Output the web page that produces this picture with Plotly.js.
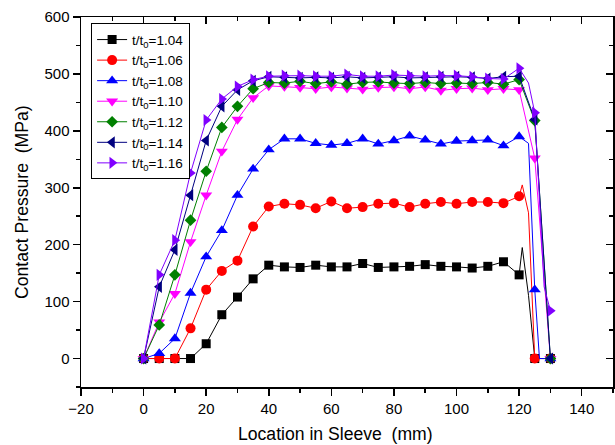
<!DOCTYPE html>
<html>
<head>
<meta charset="utf-8">
<script src="https://cdn.plot.ly/plotly-3.0.1.min.js"></script>
<style>html,body{margin:0;padding:0;background:#fff;}#chart{width:615px;height:445px;}</style>
</head>
<body>
<div id="chart"></div>
<script>
// Location in sleeve (mm) and contact pressure (MPa) for each thickness ratio
const labels = ["1.04", "1.06", "1.08", "1.10", "1.12", "1.14", "1.16"];

const x104 = [0,5,10,15,20,25,30,35,40,45,50,55,60,65,70,75,80,85,90,95,100,105,110,115,120,121,123,125,130];
const y104 = [0,0,0,0,26,77,108,140,164,161,160,164,161,161,167,160,161,162,165,162,161,159,162,170,147,195,111,0,0];

const x106 = [0,5,10,15,20,25,30,35,40,45,50,55,60,65,70,75,80,85,90,95,100,105,110,115,120,121,123,125,130];
const y106 = [0,0,0,53,121,154,172,232,267,272,270,264,276,264,266,272,273,266,272,275,272,275,275,273,285,305,256,0,0];

const x108 = [0,5,10,15,20,25,30,35,40,45,50,55,60,65,70,75,80,85,90,95,100,105,110,115,120,123,125,126.5,130];
const y108 = [0,9,35,115,179,225,287,333,367,386,386,378,375,378,386,377,383,391,384,377,382,383,384,374,390,378,121,0,0];

const x110 = [0,5,10,15,20,25,30,35,40,45,50,55,60,65,70,75,80,85,90,95,100,105,110,115,120,125,130];
const y110 = [0,64,114,205,287,364,420,458,479,478,476,474,477,475,473,476,477,474,477,471,474,475,472,474,472,352,0];

const x112 = [0,5,10,15,20,25,30,35,40,45,50,55,60,65,70,75,80,85,90,95,100,105,110,115,120,125,130];
const y112 = [0,59,147,243,329,406,443,474,485,484,487,483,486,482,485,486,484,483,485,483,484,483,485,482,490,418,0];

const x114 = [0,5,10,15,20,25,30,35,40,45,50,55,60,65,70,75,80,85,90,95,100,105,110,115,120,125,130];
const y114 = [0,126,191,287,383,443,472,488,495,494,493,494,493,495,493,494,495,493,494,495,495,494,492,495,496,420,0];

const x116 = [0,5,10,15,20,25,30,35,40,45,50,55,60,65,70,75,80,85,90,95,100,105,110,115,120,123,125,128,130];
const y116 = [0,147,208,326,419,456,478,490,496,497,497,496,496,499,496,496,498,497,496,497,497,495,492,491,510,484,432,126,84];

const xs = [x104, x106, x108, x110, x112, x114, x116];
const ys = [y104, y106, y108, y110, y112, y114, y116];
const colors = ["#000000", "#FF0000", "#0000FF", "#FF00FF", "#008000", "#000080", "#8000FF"];
const symbols = ["square", "circle", "triangle-up", "triangle-down", "diamond", "triangle-left", "triangle-right"];
const msizes = [9, 10, 10.5, 10.5, 9, 10.5, 10.5];

const traces = xs.map((xv, i) => ({
  type: "scatter",
  mode: "lines+markers",
  x: xv,
  y: ys[i],
  name: "t/t<sub>0</sub>=" + labels[i],
  line: {color: colors[i], width: 1},
  marker: {
    // markers only on the 5 mm stations; intermediate line points stay unmarked
    color: xv.map(v => (v % 5 === 0 ? colors[i] : "rgba(0,0,0,0)")),
    symbol: symbols[i],
    size: msizes[i],
    line: {width: 0}
  },
  cliponaxis: false
}));

// dummy trace to create mirrored top/right axes
traces.push({x: [null], y: [null], xaxis: "x2", yaxis: "y2", showlegend: false, hoverinfo: "skip"});

const fam = "Liberation Sans, Arial, sans-serif";
const axFont = {family: fam, size: 15, color: "#000"};
const layout = {
  width: 615,
  height: 445,
  margin: {l: 81, r: 2, t: 17, b: 58},
  paper_bgcolor: "#fff",
  plot_bgcolor: "#fff",
  font: {family: fam, color: "#000"},
  showlegend: true,
  legend: {
    x: 0.019, y: 0.983, xanchor: "left", yanchor: "top",
    bordercolor: "#000", borderwidth: 1, bgcolor: "#fff",
    font: {family: fam, size: 13.5, color: "#000"},
    tracegroupgap: 0
  },
  xaxis: {
    range: [-20, 150], tick0: 0, dtick: 20, ticks: "outside", ticklen: 7, tickwidth: 1.5, tickcolor: "#000",
    minor: {dtick: 10, ticks: "outside", ticklen: 4, tickwidth: 1.5, tickcolor: "#000"},
    showline: true, linecolor: "#000", linewidth: 1.5, showgrid: false, zeroline: false,
    tickfont: axFont
  },
  yaxis: {
    range: [-50, 600], tick0: 0, dtick: 100, ticks: "outside", ticklen: 7, tickwidth: 1.5, tickcolor: "#000",
    minor: {dtick: 50, ticks: "outside", ticklen: 4, tickwidth: 1.5, tickcolor: "#000"},
    showline: true, linecolor: "#000", linewidth: 1.5, showgrid: false, zeroline: false,
    tickfont: axFont
  },
  xaxis2: {
    overlaying: "x", side: "top", range: [-20, 150], tick0: 0, dtick: 20, ticks: "inside", ticklen: 7, tickwidth: 1.5, tickcolor: "#000",
    minor: {dtick: 10, ticks: "inside", ticklen: 4, tickwidth: 1.5, tickcolor: "#000"},
    showticklabels: false, showline: true, linecolor: "#000", linewidth: 1.5, showgrid: false, zeroline: false
  },
  yaxis2: {
    overlaying: "y", side: "right", range: [-50, 600], tick0: 0, dtick: 100, ticks: "inside", ticklen: 7, tickwidth: 1.5, tickcolor: "#000",
    minor: {dtick: 50, ticks: "inside", ticklen: 4, tickwidth: 1.5, tickcolor: "#000"},
    showticklabels: false, showline: true, linecolor: "#000", linewidth: 1.5, showgrid: false, zeroline: false
  },
  annotations: [
    {text: "Location in Sleeve  (mm)", xref: "paper", yref: "paper", x: 0.479, y: -0.127,
     xanchor: "center", yanchor: "middle", showarrow: false, font: {family: fam, size: 17.6, color: "#000"}},
    {text: "Contact Pressure  (MPa)", xref: "paper", yref: "paper", x: -0.111, y: 0.5, textangle: -90,
     xanchor: "center", yanchor: "middle", showarrow: false, font: {family: fam, size: 17.6, color: "#000"}}
  ]
};

Plotly.newPlot("chart", traces, layout, {displayModeBar: false, staticPlot: true});
</script>
</body>
</html>
